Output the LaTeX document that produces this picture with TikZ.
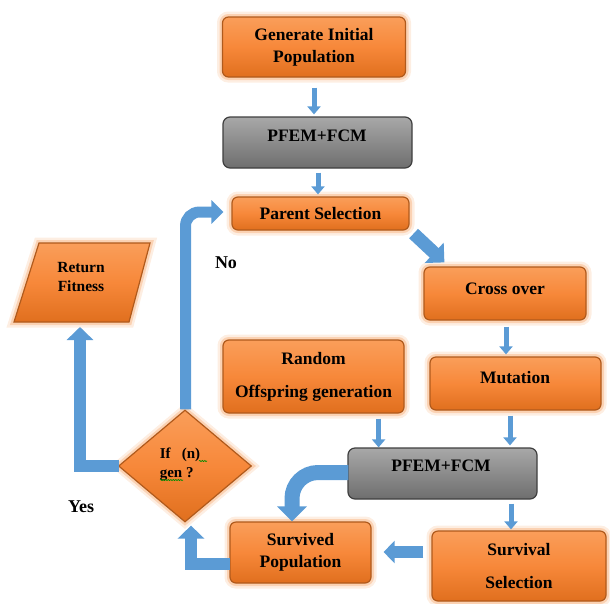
\documentclass[tikz,border=0pt]{standalone}
\usepackage{fontspec}
\setmainfont{Liberation Serif}
\usetikzlibrary{arrows.meta,shapes.geometric,calc,decorations.pathmorphing}
\definecolor{otop}{HTML}{FA9E5A}
\definecolor{omid}{HTML}{F7883A}
\definecolor{obot}{HTML}{E06F1E}
\definecolor{oedge}{HTML}{B05A1C}
\definecolor{oglow}{HTML}{F8B07A}
\definecolor{gtop}{HTML}{A8A8A8}
\definecolor{gbot}{HTML}{6E6E6E}
\definecolor{gedge}{HTML}{3F3F3F}
\definecolor{abl}{HTML}{5B9BD5}
\tikzset{
  glow/.style={preaction={draw=oglow, line width=11pt, opacity=0.22},
               preaction={draw=oglow, line width=6pt, opacity=0.45}},
  obox/.style={rectangle, rounded corners=6pt, top color=otop, bottom color=obot, middle color=omid,
               draw=oedge, line width=1.2pt, glow, inner sep=0pt,
               font=\fontsize{17.5}{22}\selectfont\bfseries, align=center},
  oshape/.style={top color=otop, bottom color=obot, middle color=omid, draw=oedge, line width=1.2pt, glow},
  gbox/.style={rectangle, rounded corners=7pt, top color=gtop, bottom color=gbot,
               draw=gedge, line width=1.2pt, inner sep=0pt},
  txt/.style={font=\fontsize{17.5}{22}\selectfont\bfseries, align=center, inner sep=0pt},
  sarrow/.style={draw=abl, line width=5pt, -{Triangle[width=13pt,length=8pt]}},
  squig/.style={draw=green!55!black, line width=0.6pt, decorate,
                decoration={snake, amplitude=0.6pt, segment length=2.5pt}},
}
\begin{document}
\begin{tikzpicture}[x=1pt,y=-1pt]
\useasboundingbox (0,0) rectangle (610,603);

% ---------- nodes ----------
\node[obox, minimum width=183pt, minimum height=60pt] (gen) at (314,47) {Generate Initial\\Population};
\node[gbox, minimum width=189pt, minimum height=51pt] (p1) at (317.5,142.5) {};
\node[txt] (p1t) at (317,136) {PFEM+FCM};
\node[obox, minimum width=177pt, minimum height=33pt] (ps) at (320.5,213.5) {Parent Selection};
\node[obox, minimum width=162pt, minimum height=53pt] (co) at (505,293.5) {};
\node[txt] (cot) at (505,289) {Cross over};
\node[obox, minimum width=171pt, minimum height=53pt] (mu) at (515.5,383.5) {};
\node[txt] (mut) at (515,378) {Mutation};
\node[obox, minimum width=181pt, minimum height=73pt, font=\fontsize{17.5}{33}\selectfont\bfseries] (ro) at (313.5,376.5) {Random\\Offspring generation};
\node[gbox, minimum width=189pt, minimum height=51pt] (p2) at (442.5,473.5) {};
\node[txt] (p2t) at (441,466) {PFEM+FCM};
\node[obox, minimum width=174pt, minimum height=70pt, font=\fontsize{17.5}{33}\selectfont\bfseries] (ss) at (519,566) {Survival\\Selection};
\node[obox, minimum width=141pt, minimum height=61pt] (sp) at (300.5,552.5) {Survived\\Population};
\node[diamond, oshape, minimum width=133pt, minimum height=112pt, inner sep=0pt] (dm) at (185,466) {};
\node[font=\fontsize{15}{19}\selectfont\bfseries, align=left, inner sep=0pt] (dmt) at (180,464) {If\ \ \ (n)\\gen ?};
\draw[squig] (199,461) -- (207,461);
\draw[squig] (160,480) -- (183,480);

% Return Fitness parallelogram
\path[oshape] (39,243) coordinate (rf1) -- (150,243) -- (129,322) -- (14,322) coordinate (rf4) -- cycle;
\coordinate (rfb) at (80,322);
\node[font=\fontsize{15.5}{19}\selectfont\bfseries, align=center, inner sep=0pt] (rft) at (81,277) {Return\\Fitness};

% ---------- connectors ----------
\draw[sarrow] ($(gen.south)+(0,10)$) -- ($(gen.south |- p1.north)+(0,-2)$);
\draw[sarrow] ($(p1.south)+(0.5,4)$) -- ($(p1.south |- ps.north)+(0.5,-2)$);
\draw[draw=abl, line width=13pt, -{Triangle[width=27pt,length=14pt]}]
  ($(ps.south east)+(4,3)$) -- ($(co.north west)+(21,-4)$);
\draw[sarrow] ($(co.south)+(1,6)$) -- ($(co.south |- mu.north)+(1,-2)$);
\coordinate (roa) at ($(ro.south east)+(-26,5)$);
\draw[sarrow] (roa) -- (roa |- p2.north);
\coordinate (mua) at ($(mu.south)+(-5.5,5)$);
\draw[sarrow] (mua) -- ($(mua |- p2.north)+(0,-2)$);
\coordinate (p2a) at ($(p2.south)+(68.5,4)$);
\draw[sarrow] (p2a) -- ($(p2a |- ss.north)+(0,-1)$);
% PFEM2 -> Survived (curved)
\coordinate (cv) at (292,472.5);
\draw[draw=abl, line width=15pt, -{Triangle[width=29pt,length=15pt]}, rounded corners=26pt]
  ($(p2.west)+(1,-1)$) -- (cv) -- (cv |- sp.north);
% Survival -> Survived
\coordinate (ssa) at ($(ss.west)+(-8,-14)$);
\draw[draw=abl, line width=12pt, -{Triangle[width=22pt,length=11pt]}]
  (ssa) -- ($(sp.east |- ssa)+(12,0)$);
% Survived -> decision
\coordinate (c1) at (191,564);
\draw[draw=abl, line width=12pt, -{Triangle[width=26pt,length=13pt]}]
  ($(sp.west |- c1)+(1,0)$) -- (c1) -- ($(c1 |- dm.south)+(0,3)$);
% decision -> Parent Selection (No)
\coordinate (c2) at (185.5,212);
\draw[draw=abl, line width=11pt, -{Triangle[width=23pt,length=12pt]}, rounded corners=14pt]
  ($(dm.north)+(0.5,0)$) -- (c2) -- ($(ps.west |- c2)+(-8,0)$);
% decision -> Return Fitness (Yes)
\coordinate (c3) at (80,466);
\draw[draw=abl, line width=12pt, -{Triangle[width=26pt,length=13pt]}]
  ($(dm.west)+(1,0)$) -- (c3) -- ($(rfb)+(0,5)$);

% labels
\node[txt, font=\fontsize{18}{20}\selectfont\bfseries] (no) at (226,263) {No};
\node[txt, font=\fontsize{18}{20}\selectfont\bfseries] (yes) at (81,507) {Yes};
\end{tikzpicture}
\end{document}
